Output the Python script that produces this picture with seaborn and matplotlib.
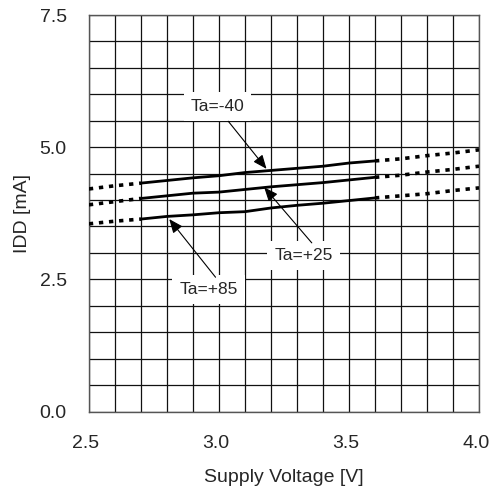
import pandas as pd
import seaborn as sns
import matplotlib.pyplot as plt
import matplotlib.transforms as mtransforms

# measured range (solid) and extrapolated ends (dotted)
volt_solid = [2.7, 2.8, 2.9, 3.0, 3.1, 3.2, 3.3, 3.4, 3.5, 3.6]
volt_left = [2.5, 2.6, 2.7]
volt_right = [3.6, 3.7, 3.8, 3.9, 4.0]

idd_m40 = [4.32, 4.37, 4.42, 4.46, 4.52, 4.56, 4.60, 4.64, 4.70, 4.74]
idd_25 = [4.03, 4.08, 4.13, 4.15, 4.20, 4.25, 4.29, 4.33, 4.38, 4.43]
idd_85 = [3.64, 3.69, 3.72, 3.76, 3.78, 3.85, 3.90, 3.94, 3.99, 4.04]

left_m40 = [4.21, 4.27, 4.32]
left_25 = [3.91, 3.97, 4.03]
left_85 = [3.55, 3.60, 3.64]

right_m40 = [4.74, 4.78, 4.84, 4.89, 4.95]
right_25 = [4.43, 4.47, 4.53, 4.58, 4.64]
right_85 = [4.04, 4.08, 4.12, 4.18, 4.23]

labels = ["Ta=-40", "Ta=+25", "Ta=+85"]
label_xy = [(2.994, 5.77), (3.325, 2.945), (2.960, 2.30)]
arrow_from = [(3.036, 5.49), (3.357, 3.19), (2.987, 2.54)]
arrow_to = [(3.183, 4.59), (3.174, 4.24), (2.809, 3.64)]

sns.set_style("white")
plt.rcParams['font.family'] = ['Liberation Sans', 'DejaVu Sans']

fig = plt.figure(figsize=(4.91, 4.94), dpi=100)
ax = fig.add_axes([0.181, 0.167, 0.7946, 0.8026])

solid = {"-40": idd_m40, "+25": idd_25, "+85": idd_85}
left = {"-40": left_m40, "+25": left_25, "+85": left_85}
right = {"-40": right_m40, "+25": right_25, "+85": right_85}

for k in solid:
    sns.lineplot(x=volt_solid, y=solid[k], ax=ax, color='black', lw=2,
                 estimator=None, sort=False, zorder=3)
    for xs, ys in [(volt_left, left[k]), (volt_right, right[k])]:
        sns.lineplot(x=xs, y=ys, ax=ax, color='black', lw=2.6,
                     linestyle=(0, (1.2, 1.6)), estimator=None, sort=False, zorder=3)

ax.set_xlim(2.5, 4.0)
ax.set_ylim(0, 7.5)
ax.set_xticks([2.5, 3.0, 3.5, 4.0])
ax.set_yticks([0.0, 2.5, 5.0, 7.5])
ax.set_xticks([2.5 + 0.1 * i for i in range(16)], minor=True)
ax.set_yticks([0.5 * i for i in range(16)], minor=True)
ax.grid(which='both', color='#111111', lw=0.9)
ax.set_axisbelow(True)
ax.tick_params(which='both', length=0)
ax.tick_params(axis='x', pad=17, labelsize=14)
ax.tick_params(axis='y', pad=16, labelsize=14)
for s in ax.spines.values():
    s.set_color('#555555')
    s.set_linewidth(1)

# x tick labels sit a little left of their gridline in the original
shift = mtransforms.ScaledTranslation(-3 / 100, 0, fig.dpi_scale_trans)
for t in ax.get_xticklabels():
    t.set_transform(t.get_transform() + shift)

ax.set_xlabel("Supply Voltage [V]", fontsize=14, labelpad=12)
ax.set_ylabel("IDD [mA]", fontsize=14, labelpad=6)

for lab, txy, a0, a1 in zip(labels, label_xy, arrow_from, arrow_to):
    ax.text(txy[0], txy[1], lab, fontsize=12.5, ha='center', va='center', zorder=4,
            bbox=dict(boxstyle='square,pad=0.4', fc='white', ec='none'))
    ax.annotate('', xy=a1, xytext=a0, zorder=5,
                arrowprops=dict(arrowstyle='-|>,head_length=0.6,head_width=0.25',
                                color='black', lw=0.8, mutation_scale=14,
                                shrinkA=0, shrinkB=0))

fig.savefig("out.png", dpi=100)
